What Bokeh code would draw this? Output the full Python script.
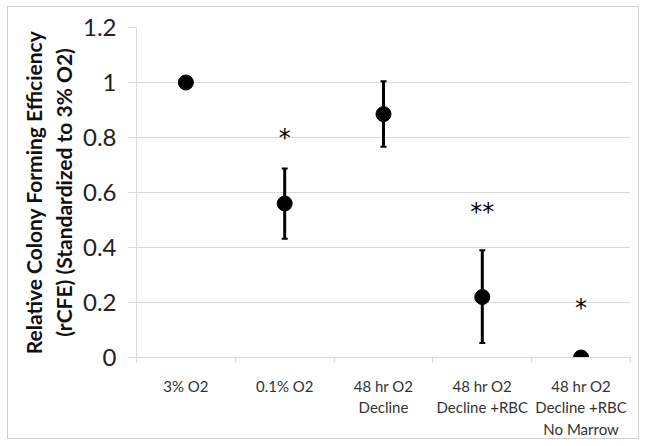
from bokeh.plotting import figure
from bokeh.models import ColumnDataSource, FixedTicker, Whisker, TeeHead
from bokeh.core.properties import value
from bokeh.embed import file_html
from bokeh.resources import INLINE

categories = ["3% O2", "0.1% O2", "48 hr O2\nDecline", "48 hr O2\nDecline +RBC", "48 hr O2\nDecline +RBC\nNo Marrow"]
rcfe = [1.0, 0.56, 0.885, 0.22, 0.0]
err_upper = [1.0, 0.687, 1.005, 0.39, 0.0]
err_lower = [1.0, 0.432, 0.766, 0.053, 0.0]
sig_labels = ["", "*", "", "**", "*"]
sig_y = [None, 0.80, None, 0.53, 0.18]
y_ticks = [0, 0.2, 0.4, 0.6, 0.8, 1, 1.2]
y_tick_labels = ["0", "0.2", "0.4", "0.6", "0.8", "1", "1.2"]

xs = [i + 0.5 for i in range(len(categories))]
bounds = list(range(len(categories) + 1))

FONT = "Lato"

p = figure(width=632, height=433, x_range=(0, len(categories)), y_range=(0, 1.2),
           output_backend="svg", toolbar_location=None,
           min_border_left=128, min_border_right=10, min_border_top=20, min_border_bottom=80)
p.styles = {"border": "1px solid #d0d0d0", "margin": "6px 0 0 7px"}
p.outline_line_color = None
p.background_fill_color = "white"

# grid
p.xgrid.grid_line_color = None
p.ygrid.grid_line_color = "#d9d9d9"
p.ygrid.grid_line_width = 1

# y axis
p.yaxis.ticker = FixedTicker(ticks=y_ticks)
p.yaxis.major_label_overrides = {t: l for t, l in zip(y_ticks, y_tick_labels)}
p.yaxis.axis_line_color = "#d9d9d9"
p.yaxis.major_tick_line_color = "#d9d9d9"
p.yaxis.major_tick_out = 8
p.yaxis.major_tick_in = 0
p.yaxis.minor_tick_line_color = None
p.yaxis.major_label_text_font = FONT
p.yaxis.major_label_text_font_size = "24px"
p.yaxis.major_label_text_color = "#222222"
p.yaxis.major_label_standoff = 12
p.yaxis.axis_label = "Relative Colony Forming Efficiency\n(rCFE) (Standardized to 3% O2)"
p.yaxis.axis_label_text_font = FONT
p.yaxis.axis_label_text_font_style = "bold"
p.yaxis.axis_label_text_font_size = "21px"
p.yaxis.axis_label_text_color = "#111111"
p.yaxis.axis_label_standoff = 4

# x axis
p.xaxis.ticker = FixedTicker(ticks=xs, minor_ticks=bounds)
p.xaxis.major_label_overrides = {x: c for x, c in zip(xs, categories)}
p.xaxis.axis_line_color = "#d9d9d9"
p.xaxis.major_tick_line_color = None
p.xaxis.major_tick_out = 0
p.xaxis.major_tick_in = 0
p.xaxis.minor_tick_line_color = "#d9d9d9"
p.xaxis.minor_tick_out = 5
p.xaxis.minor_tick_in = 0
p.xaxis.major_label_text_font = FONT
p.xaxis.major_label_text_font_size = "15px"
p.xaxis.major_label_text_color = "#333333"
p.xaxis.major_label_standoff = 14

src = ColumnDataSource(dict(x=xs, y=rcfe, upper=err_upper, lower=err_lower))
p.add_layout(Whisker(source=src, base="x", upper="upper", lower="lower",
                     line_color="black", line_width=3,
                     upper_head=TeeHead(size=6, line_width=2, line_color="black"),
                     lower_head=TeeHead(size=6, line_width=2, line_color="black")))
p.scatter("x", "y", source=src, size=15, color="black")

sx = [x for x, s in zip(xs, sig_labels) if s]
sy = [y for y, s in zip(sig_y, sig_labels) if s]
st = [s for s in sig_labels if s]
p.text(x=sx, y=sy, text=st, text_font=value("DejaVu Sans"), text_font_size="24px",
       text_align="center", text_baseline="middle", text_color="black")

open("out.html", "w").write(file_html(p, INLINE))
